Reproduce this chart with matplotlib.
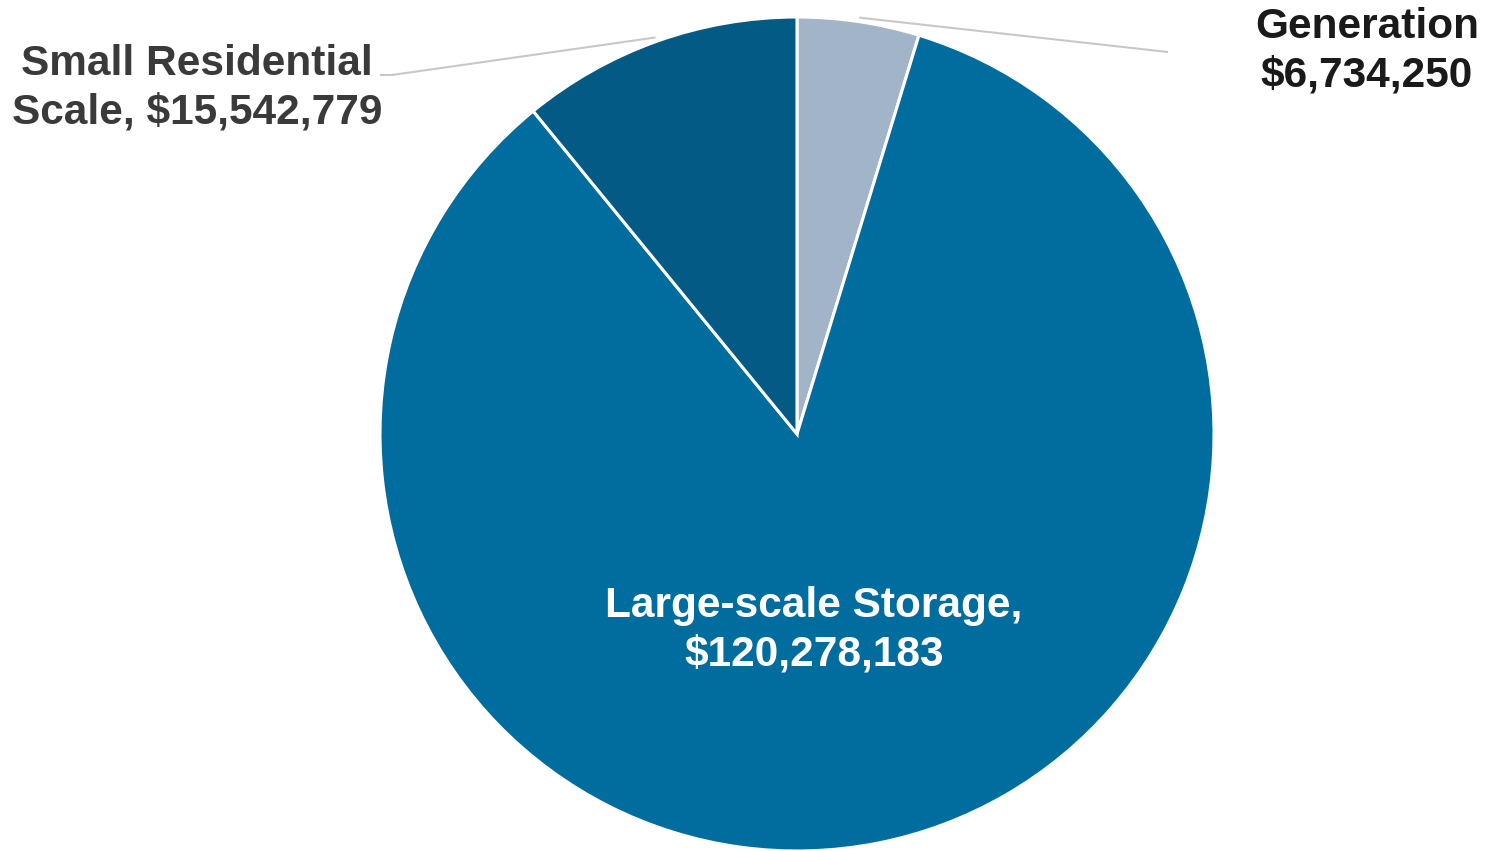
import numpy as np
import matplotlib.pyplot as plt

plt.rcParams['font.family'] = ['Liberation Sans', 'DejaVu Sans']

categories = ["Generation", "Large-scale Storage", "Small Residential Scale"]
values = [6734250, 120278183, 15542779]
labels = ["Generation\n$6,734,250", "Large-scale Storage,\n$120,278,183",
          "Small Residential\nScale, $15,542,779"]
colors = ["#A2B4C8", "#016D9F", "#025A85"]

W, H = 1486, 851
fig = plt.figure(figsize=(W / 100, H / 100), dpi=100)
ax = fig.add_axes([0, 0, 1, 1])
ax.set_aspect('equal')

cx, cy, r = 797, H - 434, 417
wedges, _ = ax.pie(values, colors=colors, startangle=90, counterclock=False,
                   center=(cx, cy), radius=r, frame=True,
                   wedgeprops=dict(edgecolor='white', linewidth=2.2))
ax.set_xlim(0, W)
ax.set_ylim(0, H)
ax.axis('off')

def mid_point(w, rr):
    a = np.deg2rad((w.theta1 + w.theta2) / 2)
    return cx + rr * np.cos(a), cy + rr * np.sin(a)

fs = 30.5
ls = 1.27

# big slice label inside
ax.text(814, H - 630, labels[1], color='white', fontsize=fs, fontweight='bold',
        ha='center', va='center', linespacing=ls)

# Generation label, leader line
x0, y0 = mid_point(wedges[0], r + 4)
ax.plot([x0, 1168], [y0, H - 52], color='#C8C8C8', lw=1.5, solid_capstyle='butt')
ax.text(1367, H - 51, labels[0], color='#1a1a1a', fontsize=fs, fontweight='bold',
        ha='center', va='center', linespacing=ls)

# Small residential label, leader line
x0, y0 = mid_point(wedges[2], r + 4)
ax.plot([x0, 392, 380], [y0, H - 75, H - 75], color='#C8C8C8', lw=1.5,
        solid_capstyle='butt')
ax.text(197, H - 88, labels[2], color='#3a3a3a', fontsize=fs, fontweight='bold',
        ha='center', va='center', linespacing=ls)

fig.savefig("out.png", dpi=100)
